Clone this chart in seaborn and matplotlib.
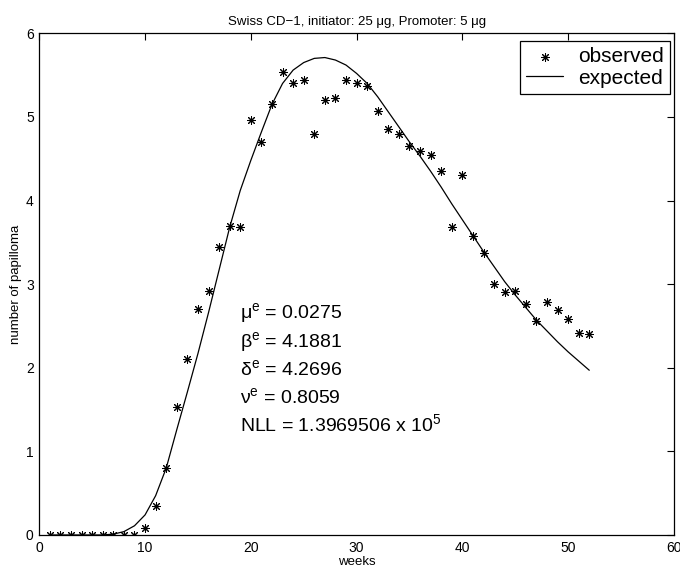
import numpy as np
import matplotlib
matplotlib.use("Agg")
import matplotlib.pyplot as plt
import seaborn as sns

# observed papilloma counts per week
weeks = list(range(1, 53))
observed = [0, 0, 0, 0, 0, 0, 0, 0, 0, 0.08,
            0.35, 0.80, 1.53, 2.10, 2.70, 2.92, 3.44, 3.70, 3.68, 4.96,
            4.70, 5.16, 5.54, 5.40, 5.44, 4.80, 5.20, 5.23, 5.44, 5.40,
            5.37, 5.07, 4.86, 4.80, 4.65, 4.59, 4.55, 4.35, 3.68, 4.30,
            3.58, 3.37, 3.00, 2.90, 2.92, 2.76, 2.56, 2.79, 2.69, 2.58,
            2.42, 2.40]
# fitted model curve
expected = [0, 0, 0, 0, 0, 0, 0.01, 0.04, 0.11, 0.24,
            0.47, 0.80, 1.26, 1.71, 2.17, 2.66, 3.17, 3.68, 4.12, 4.48,
            4.82, 5.15, 5.40, 5.56, 5.65, 5.70, 5.71, 5.68, 5.62, 5.52,
            5.40, 5.24, 5.06, 4.88, 4.70, 4.53, 4.35, 4.16, 3.96, 3.77,
            3.58, 3.39, 3.21, 3.03, 2.87, 2.72, 2.57, 2.44, 2.31, 2.19,
            2.08, 1.97]

param_lines = [
    "μ$^{\\mathrm{e}}$ = 0.0275",
    "β$^{\\mathrm{e}}$ = 4.1881",
    "δ$^{\\mathrm{e}}$ = 4.2696",
    "ν$^{\\mathrm{e}}$ = 0.8059",
    "NLL = 1.3969506 x 10$^{\\mathrm{5}}$",
]

sns.set_style("white")
plt.rcParams["font.family"] = ["Liberation Sans", "DejaVu Sans"]
plt.rcParams["mathtext.fontset"] = "custom"
plt.rcParams["mathtext.rm"] = "Liberation Sans"
plt.rcParams["mathtext.it"] = "Liberation Sans:italic"
plt.rcParams["text.color"] = "black"
plt.rcParams["axes.labelcolor"] = "black"

fig = plt.figure(figsize=(6.8, 5.74), dpi=100)
ax = fig.add_axes([0.0578, 0.068, 0.9332, 0.874])

sns.scatterplot(x=weeks, y=observed, ax=ax, color="black",
                marker=(8, 2, 0), s=32, linewidth=0.75, edgecolor="black",
                label="observed", zorder=3)
sns.lineplot(x=weeks, y=expected, ax=ax, color="black", linewidth=0.9,
             label="expected")

ax.set_xlim(0, 60)
ax.set_ylim(0, 6)
ax.set_xticks(range(0, 61, 10))
ax.set_yticks(range(0, 7))
ax.tick_params(direction="in", length=5, width=0.8, top=True, right=True,
               labelsize=10, colors="black", pad=4)
for s in ax.spines.values():
    s.set_visible(True)
    s.set_color("black")
    s.set_linewidth(0.9)

ax.set_xlabel("weeks", fontsize=9.5, labelpad=1)
ax.set_ylabel("number of papilloma", fontsize=9.5, labelpad=3)
ax.set_title("Swiss CD\u22121, initiator: 25 μg, Promoter: 5 μg",
             fontsize=9.5, pad=6)

for i, t in enumerate(param_lines):
    ax.text(19.0, 2.59 - i * 0.336, t, fontsize=14, va="baseline",
            ha="left")

leg = ax.legend(loc="upper right", bbox_to_anchor=(0.9937, 0.9847),
                borderaxespad=0, fontsize=15, frameon=True, fancybox=False,
                framealpha=1, edgecolor="black", labelspacing=0.12,
                borderpad=0.3, handlelength=1.8, handletextpad=0.7)
leg.get_frame().set_linewidth(0.9)

fig.savefig("out.png", dpi=100, facecolor="white")
